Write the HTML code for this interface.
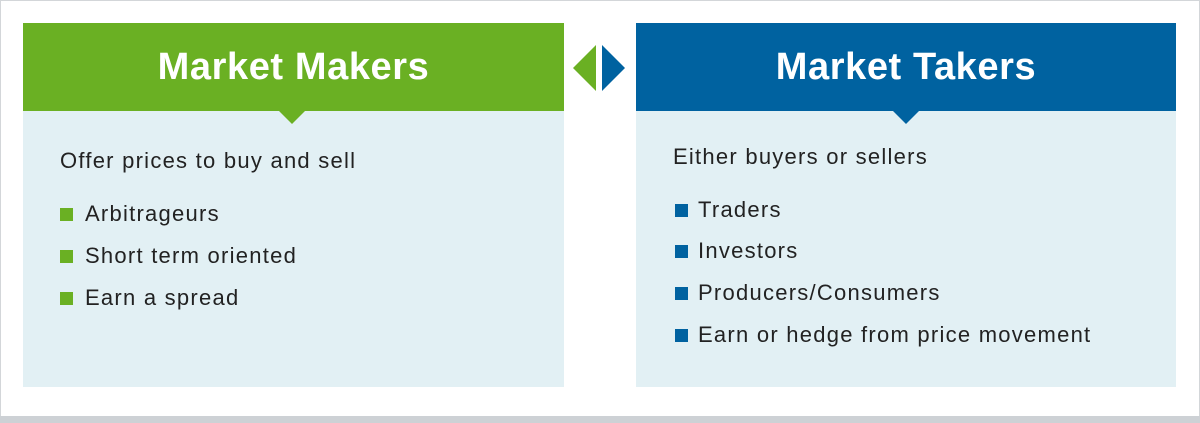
<!DOCTYPE html>
<html><head><meta charset="utf-8"><style>
body{margin:0;width:1200px;height:423px;background:#fff;position:relative;overflow:hidden;font-family:"Liberation Sans",sans-serif}
.abs{position:absolute}
.frame{left:0;top:0;width:1198px;height:416px;border:1px solid #d3d6d9;border-bottom:none}
.bottom{left:0;top:416px;width:1200px;height:7px;background:#cdd1d5}
.hdr{top:23px;height:88px;color:#fff;font-weight:bold;font-size:38px;text-align:center;line-height:88px;letter-spacing:0.6px}
.body{top:111px;height:276px;background:#e2f0f4}
.notch{width:0;height:0;border-left:13px solid transparent;border-right:13px solid transparent;top:111px}
.t{font-size:22px;color:#222;white-space:nowrap;line-height:24px;letter-spacing:1.25px}
.sq{width:13px;height:13px}
</style></head><body>
<div class="abs frame"></div>
<div class="abs bottom"></div>

<div class="abs body" style="left:23px;width:541px"></div>
<div class="abs hdr" style="left:23px;width:541px;background:#6ab023">Market Makers</div>
<div class="abs notch" style="left:279px;border-top:13px solid #6ab023"></div>

<div class="abs body" style="left:636px;width:540px"></div>
<div class="abs hdr" style="left:636px;width:540px;background:#0062a0">Market Takers</div>
<div class="abs notch" style="left:893px;border-top:13px solid #0062a0"></div>

<svg class="abs" style="left:570px;top:40px" width="60" height="56">
<polygon points="26,5 26,51 3,28" fill="#6ab023"/>
<polygon points="32,5 32,51 55,28" fill="#0062a0"/>
</svg>

<div class="abs t" style="left:60px;top:149px">Offer prices to buy and sell</div>
<div class="abs sq" style="left:60px;top:208px;background:#6ab023"></div>
<div class="abs t" style="left:85px;top:202px">Arbitrageurs</div>
<div class="abs sq" style="left:60px;top:250px;background:#6ab023"></div>
<div class="abs t" style="left:85px;top:244px">Short term oriented</div>
<div class="abs sq" style="left:60px;top:292px;background:#6ab023"></div>
<div class="abs t" style="left:85px;top:286px">Earn a spread</div>

<div class="abs t" style="left:673px;top:145px">Either buyers or sellers</div>
<div class="abs sq" style="left:675px;top:204px;background:#0062a0"></div>
<div class="abs t" style="left:698px;top:198px">Traders</div>
<div class="abs sq" style="left:675px;top:245px;background:#0062a0"></div>
<div class="abs t" style="left:698px;top:239px">Investors</div>
<div class="abs sq" style="left:675px;top:287px;background:#0062a0"></div>
<div class="abs t" style="left:698px;top:281px">Producers/Consumers</div>
<div class="abs sq" style="left:675px;top:329px;background:#0062a0"></div>
<div class="abs t" style="left:698px;top:323px">Earn or hedge from price movement</div>
</body></html>
